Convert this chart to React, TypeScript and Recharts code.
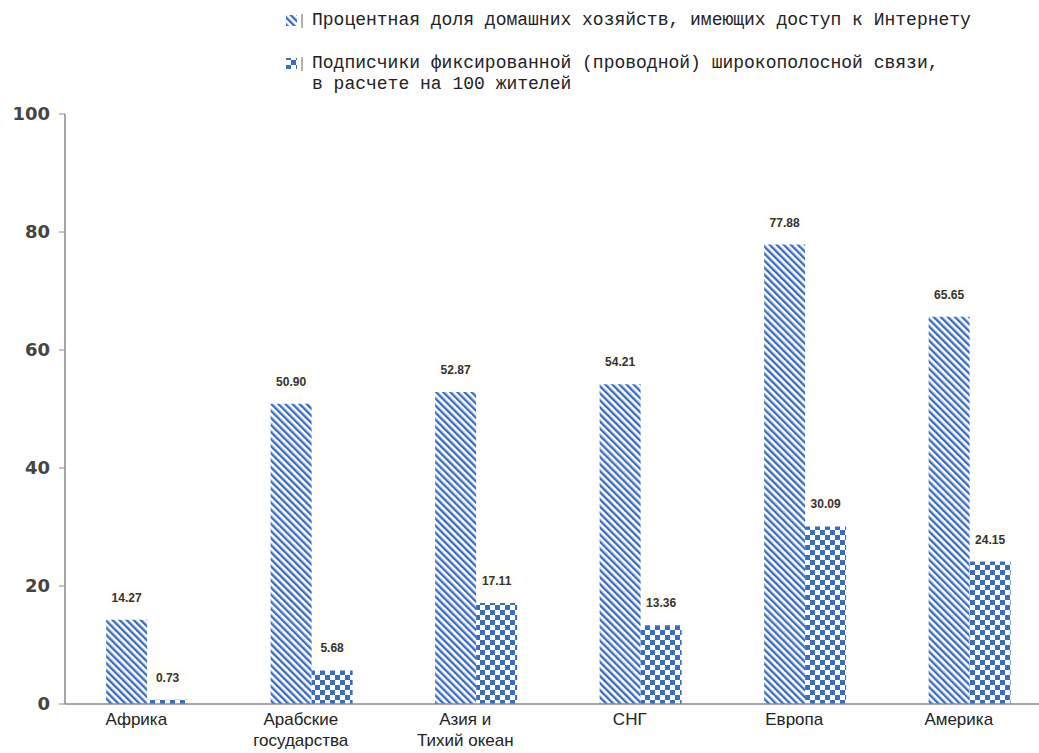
import React from 'react';
import { BarChart, Bar, XAxis, YAxis, LabelList } from 'recharts';

const categories = ['Африка', 'Арабские\nгосударства', 'Азия и\nТихий океан', 'СНГ', 'Европа', 'Америка'];
const householdsShare = [14.27, 50.9, 52.87, 54.21, 77.88, 65.65];
const broadbandPer100 = [0.73, 5.68, 17.11, 13.36, 30.09, 24.15];
const yTicks = [0, 20, 40, 60, 80, 100];

const seriesNames = [
  'Процентная доля домашних хозяйств, имеющих доступ к Интернету',
  'Подписчики фиксированной (проводной) широкополосной связи,\nв расчете на 100 жителей',
];

const data = categories.map((c, i) => ({
  name: c,
  households: householdsShare[i],
  broadband: broadbandPer100[i],
}));

const BLUE = '#3a6dc2';

const XTick = (props: any) => {
  const { x, y, payload } = props;
  const lines = String(payload.value).split('\n');
  return (
    <text x={x - 11} y={y + 13} textAnchor="middle" fontFamily="Liberation Sans, Arial, sans-serif" fontSize={17} fill="#222">
      {lines.map((l, i) => (
        <tspan key={i} x={x - 11} dy={i === 0 ? 0 : 21}>
          {l}
        </tspan>
      ))}
    </text>
  );
};

const ValueLabel = (props: any) => {
  const { x, y, width, value } = props;
  const cx = x + width / 2;
  return (
    <g>
      <rect x={cx - 18} y={y - 31} width={36} height={16} fill="#fffdf6" />
      <text x={cx} y={y - 18} textAnchor="middle" fontFamily="Liberation Sans, Arial, sans-serif" fontSize={12} fontWeight="bold" fill="#333">
        {Number(value).toFixed(2)}
      </text>
    </g>
  );
};

const LegendBox = () => (
  <div
    style={{
      position: 'absolute',
      top: 10,
      left: 286,
      fontFamily: '"Liberation Mono", "DejaVu Sans Mono", monospace',
      fontSize: 18,
      color: '#222',
      lineHeight: '21px',
    }}
  >
    {seriesNames.map((n, i) => (
      <div key={i} style={{ display: 'flex', alignItems: 'flex-start', marginBottom: i === 0 ? 22 : 0 }}>
        <svg width={22} height={18} style={{ marginTop: 2, marginRight: 4 }}>
          <rect x={0} y={3} width={11} height={11} fill={i === 0 ? 'url(#stripes)' : 'url(#checks)'} />
          <line x1={16} y1={2} x2={16} y2={16} stroke="#999" strokeWidth={1.5} />
        </svg>
        <div style={{ whiteSpace: 'pre' }}>{n}</div>
      </div>
    ))}
  </div>
);

export default function App() {
  return (
    <div style={{ position: 'fixed', left: 0, top: 0, width: 1039, height: 753, overflow: 'hidden', background: '#fff' }}>
      <BarChart
        width={1052}
        height={753}
        data={data}
        margin={{ top: 114, right: 0, bottom: 4, left: 0 }}
        barCategoryGap="25%"
        barGap={0}
      >
        <defs>
          <pattern id="stripes" patternUnits="userSpaceOnUse" width={5} height={5} patternTransform="rotate(-45)">
            <rect width={5} height={5} fill="#ffffff" />
            <rect x={0} y={0} width={2.4} height={5} fill={BLUE} />
          </pattern>
          <pattern id="checks" patternUnits="userSpaceOnUse" width={10} height={10}>
            <rect width={10} height={10} fill="#ffffff" />
            <rect x={0} y={0} width={5} height={5} fill={BLUE} />
            <rect x={5} y={5} width={5} height={5} fill={BLUE} />
          </pattern>
        </defs>
        <XAxis
          dataKey="name"
          interval={0}
          height={45}
          tickLine={false}
          axisLine={{ stroke: '#888', strokeWidth: 1.5 }}
          tick={<XTick />}
        />
        <YAxis
          domain={[0, 100]}
          ticks={yTicks}
          width={65}
          tickSize={6}
          tickMargin={9}
          axisLine={{ stroke: '#888', strokeWidth: 1.5 }}
          tickLine={{ stroke: '#888' }}
          tick={{ fontFamily: 'DejaVu Sans, sans-serif', fontSize: 18, fontWeight: 'bold', fill: '#444' }}
        />
        <Bar dataKey="households" name={seriesNames[0]} fill="url(#stripes)" isAnimationActive={false}>
          <LabelList dataKey="households" content={<ValueLabel />} />
        </Bar>
        <Bar dataKey="broadband" name={seriesNames[1]} fill="url(#checks)" isAnimationActive={false}>
          <LabelList dataKey="broadband" content={<ValueLabel />} />
        </Bar>
      </BarChart>
      <LegendBox />
    </div>
  );
}
